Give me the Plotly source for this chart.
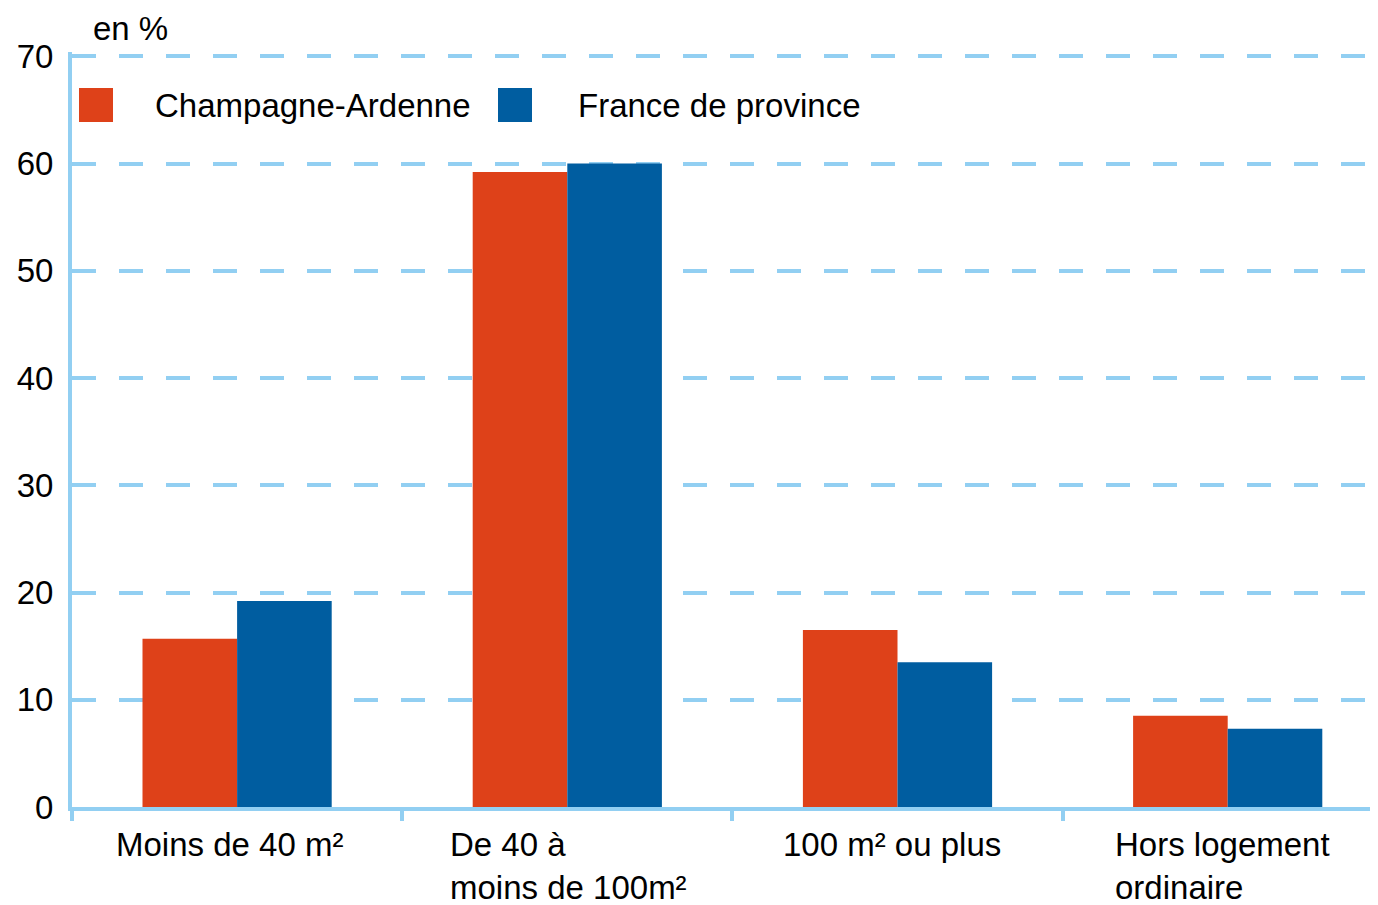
import plotly.graph_objects as go

categories = ["Moins de 40 m²", "De 40 à<br>moins de 100m²", "100 m² ou plus", "Hors logement<br>ordinaire"]
series_names = ["Champagne-Ardenne", "France de province"]
champagne = [15.7, 59.2, 16.5, 8.5]
province = [19.2, 60.0, 13.5, 7.3]
y_ticks = [0, 10, 20, 30, 40, 50, 60, 70]

RED = "#DE4119"
BLUE = "#005DA0"
GRID = "#92CFF2"
FONT = "Liberation Sans, Arial, sans-serif"
FS = 33

OFF = 8  # page body margin
EXTRA = 12  # extend figure beyond right edge of viewport
W, H = 1378 - OFF + EXTRA, 905 - OFF
Y_TOP = 70.4
PX_PER_UNIT = (807 - 56) / 70.0
PLOT_BOTTOM = 807 - OFF
PLOT_TOP = PLOT_BOTTOM - Y_TOP * PX_PER_UNIT
L = 72 - OFF
R = 0
T = int(round(PLOT_TOP))
B = H - PLOT_BOTTOM
PW = W - L - R
PH = H - T - B
CAT_PX = 330.2
X_MAX = -0.5 + PW / CAT_PX

def px2x(px):  # page pixel -> paper x
    return (px - OFF - L) / PW

def py2y(py):  # page pixel -> paper y
    return (PLOT_BOTTOM - (py - OFF)) / PH

fig = go.Figure()
fig.add_trace(go.Bar(x=list(range(len(categories))), y=champagne, name=series_names[0],
                     marker=dict(color=RED, line=dict(width=0)), showlegend=False))
fig.add_trace(go.Bar(x=list(range(len(categories))), y=province, name=series_names[1],
                     marker=dict(color=BLUE, line=dict(width=0)), showlegend=False))

# category labels, left aligned
label_xshift = [-123, -119, -117, -115]
for i, c in enumerate(categories):
    fig.add_annotation(x=i, y=0, xref="x", yref="paper", text=c, showarrow=False,
                       xanchor="left", yanchor="top", align="left", yshift=-17,
                       xshift=label_xshift[i],
                       font=dict(family=FONT, size=FS, color="black"))

# legend drawn manually
for (x0, x1, col, tx, name) in [(79, 113, RED, 153, series_names[0]), (498, 532, BLUE, 576, series_names[1])]:
    fig.add_shape(type="rect", xref="paper", yref="paper", x0=px2x(x0), x1=px2x(x1),
                  y0=py2y(122), y1=py2y(88), fillcolor=col, line=dict(width=0))
    fig.add_annotation(x=px2x(tx), y=py2y(105), xref="paper", yref="paper", text=name,
                       showarrow=False, xanchor="left", yanchor="middle",
                       font=dict(family=FONT, size=FS, color="black"))

fig.add_annotation(x=px2x(91), y=py2y(29), xref="paper", yref="paper", text="en %",
                   showarrow=False, xanchor="left", yanchor="middle",
                   font=dict(family=FONT, size=FS, color="black"))

fig.update_layout(
    width=W, height=H,
    margin=dict(l=L, r=R, t=T, b=B, pad=0),
    plot_bgcolor="white", paper_bgcolor="white",
    barmode="group", bargap=0.427, bargroupgap=0,
    font=dict(family=FONT, size=FS, color="black"),
    showlegend=False,
)
fig.update_xaxes(
    type="linear", range=[-0.5, X_MAX], showgrid=False, zeroline=False,
    showline=True, linecolor=GRID, linewidth=4,
    tickmode="array", tickvals=[-0.5, 0.5, 1.5, 2.5], ticktext=["", "", "", ""],
    ticks="outside", ticklen=10, tickwidth=4, tickcolor=GRID,
    showticklabels=False,
)
fig.update_yaxes(
    range=[0, Y_TOP], tickmode="array", tickvals=y_ticks, ticktext=[str(v) for v in y_ticks],
    showgrid=True, gridcolor=GRID, gridwidth=4, griddash="24px,23px",
    zeroline=False, showline=True, linecolor=GRID, linewidth=4,
    ticks="", ticklabelstandoff=8,
    tickfont=dict(family=FONT, size=FS, color="black"),
)

fig.write_html("out.html")
